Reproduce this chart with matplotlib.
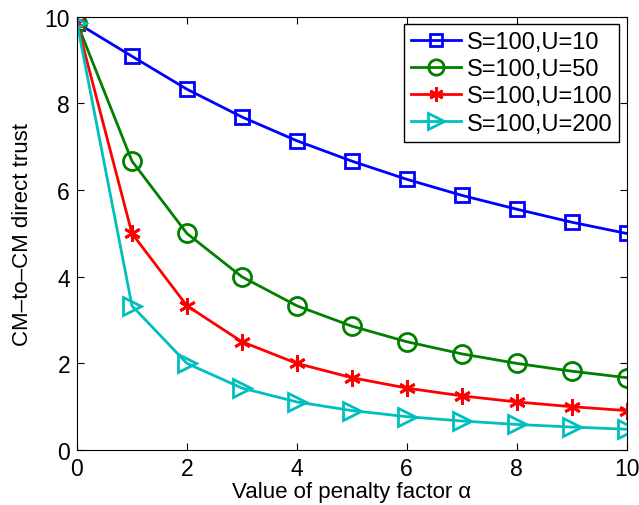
import numpy as np
import matplotlib.pyplot as plt

plt.rcParams['font.family'] = ['Liberation Sans', 'DejaVu Sans']

alpha = [0, 1, 2, 3, 4, 5, 6, 7, 8, 9, 10]
u10 = [9.86, 9.09, 8.33, 7.69, 7.14, 6.67, 6.25, 5.88, 5.56, 5.26, 5.00]
u50 = [9.86, 6.67, 5.00, 4.00, 3.33, 2.86, 2.50, 2.22, 2.00, 1.82, 1.67]
u100 = [9.86, 5.00, 3.33, 2.50, 2.00, 1.67, 1.43, 1.25, 1.11, 1.00, 0.91]
u200 = [9.86, 3.33, 2.00, 1.43, 1.11, 0.91, 0.77, 0.67, 0.59, 0.53, 0.48]
labels = ['S=100,U=10', 'S=100,U=50', 'S=100,U=100', 'S=100,U=200']

fig = plt.figure(figsize=(6.39, 5.06), dpi=100)
ax = fig.add_axes([0.1205, 0.1087, 0.860, 0.856])

ax.plot(alpha, u10, color='#0000ff', lw=2, marker='s', ms=10, mfc='none', mew=2, label=labels[0])
ax.plot(alpha, u50, color='#008000', lw=2, marker='o', ms=13, mfc='none', mew=2, label=labels[1])
ax.plot(alpha, u100, color='#ff0000', lw=2, marker=(6, 2, 0), ms=12, mew=2, label=labels[2])
ax.plot(alpha, u200, color='#00bfbf', lw=2, marker='>', ms=13, mfc='none', mew=2, label=labels[3])

ax.set_xlim(0, 10)
ax.set_ylim(0, 10)
ax.set_xticks(range(0, 11, 2))
ax.set_yticks(range(0, 11, 2))
ax.tick_params(direction='in', top=True, right=True, labelsize=16.5, length=5, pad=5)
ax.set_xlabel('Value of penalty factor α', fontsize=16, labelpad=1)
ax.set_ylabel('CM–to–CM direct trust', fontsize=16, labelpad=8)

leg = ax.legend(loc='upper right', fontsize=17, fancybox=False, edgecolor='black',
                framealpha=1, borderaxespad=0.3, handlelength=2.1, labelspacing=0.22,
                borderpad=0.3, handletextpad=0.25, markerscale=0.85)
leg.get_frame().set_linewidth(1)

fig.savefig('out.png', dpi=100)
